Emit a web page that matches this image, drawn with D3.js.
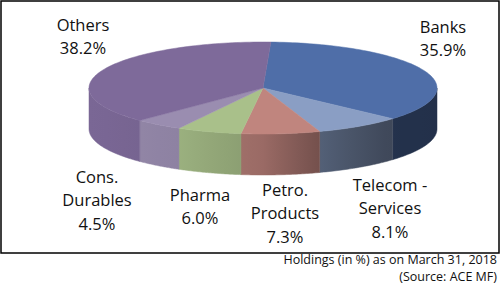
<!DOCTYPE html>
<html>
<head>
<meta charset="utf-8">
<script src="https://cdn.jsdelivr.net/npm/d3@7"></script>
<style>
  body { margin: 0; background: #fff; }
  text { font-family: "Open Sans", sans-serif; fill: #111; }
</style>
</head>
<body>
<div id="chart"></div>
<script>
// data
var categories = ["Banks", "Telecom - Services", "Petro. Products", "Pharma", "Cons. Durables", "Others"];
var values = [35.9, 8.1, 7.3, 6.0, 4.5, 38.2];
var footnotes = ["Holdings (in %) as on March 31, 2018", "(Source: ACE MF)"];

// layout
var width = 500, height = 285;
var cx = 263, cy = 88, rx = 174, ry = 46, depth = 41;
var startAngle = 2.6 * Math.PI / 180;
var colors = ["#4f6ea8", "#8a9ec4", "#c0857e", "#a9c08a", "#9a8db0", "#7e6a9a"];
// label centres (x, y of first line)
var labelPos = [[443, 27], [390, 185], [285, 190], [200, 195], [97, 177], [83, 25]];
var lineH = 23.5;

var svg = d3.select("#chart")
  .append("svg")
  .attr("width", width)
  .attr("height", height);

// outer frame
svg.append("rect")
  .attr("x", 1).attr("y", 1)
  .attr("width", 498).attr("height", 252)
  .attr("fill", "none")
  .attr("stroke", "#000")
  .attr("stroke-width", 1.5);

var pie = d3.pie().sort(null)
  .startAngle(startAngle)
  .endAngle(startAngle + 2 * Math.PI);
var arcs = pie(values);

// wall shading depends on horizontal position (light from left)
var shade = d3.scaleLinear()
  .domain([-1, -0.5, 0, 0.33, 0.74, 1])
  .range([0.97, 0.92, 0.8, 0.6, 0.45, 0.44])
  .clamp(true);

function px(a) { return cx + rx * Math.sin(a); }
function py(a) { return cy - ry * Math.cos(a); }

var defs = svg.append("defs");
colors.forEach(function (c, i) {
  var g = defs.append("linearGradient")
    .attr("id", "wall" + i)
    .attr("gradientUnits", "userSpaceOnUse")
    .attr("x1", cx - rx).attr("x2", cx + rx)
    .attr("y1", 0).attr("y2", 0);
  d3.range(0, 1.0001, 0.05).forEach(function (t) {
    var base = d3.rgb(c), f = shade(t * 2 - 1);
    g.append("stop")
      .attr("offset", t)
      .attr("stop-color", d3.rgb(base.r * f, base.g * f, base.b * f));
  });
});

// front walls: only the part between 90deg and 270deg (the front half)
var walls = svg.append("g");
arcs.forEach(function (d, i) {
  var a0 = Math.max(d.startAngle, Math.PI / 2);
  var a1 = Math.min(d.endAngle, 3 * Math.PI / 2);
  // slices that wrap past 2PI
  if (a1 <= a0) {
    a0 = Math.max(d.startAngle - 2 * Math.PI, Math.PI / 2);
    a1 = Math.min(d.endAngle - 2 * Math.PI, 3 * Math.PI / 2);
    if (a1 <= a0) return;
  }
  var n = 40, top = [], bot = [];
  for (var k = 0; k <= n; k++) {
    var a = a0 + (a1 - a0) * k / n;
    top.push([px(a), py(a)]);
    bot.push([px(a), py(a) + depth]);
  }
  var pts = top.concat(bot.reverse());
  walls.append("path")
    .attr("d", d3.line()(pts) + "Z")
    .attr("fill", "url(#wall" + i + ")")
    .attr("stroke", "url(#wall" + i + ")")
    .attr("stroke-width", 0.5);
});

// top faces
var tops = svg.append("g");
arcs.forEach(function (d, i) {
  var n = Math.max(4, Math.ceil((d.endAngle - d.startAngle) * 40));
  var pts = [[cx, cy]];
  for (var k = 0; k <= n; k++) {
    var a = d.startAngle + (d.endAngle - d.startAngle) * k / n;
    pts.push([px(a), py(a)]);
  }
  tops.append("path")
    .attr("d", d3.line()(pts) + "Z")
    .attr("fill", colors[i])
    .attr("stroke", colors[i])
    .attr("stroke-width", 0.5);
});

// labels
function wrap(name) {
  var words = name.split(" "), lines = [];
  words.forEach(function (w) {
    if (w === "-" && lines.length) lines[lines.length - 1] += " -";
    else lines.push(w);
  });
  return lines;
}

var labels = svg.append("g");
arcs.forEach(function (d, i) {
  var lines = wrap(categories[i]).concat([values[i].toFixed(1) + "%"]);
  var t = labels.append("text")
    .attr("text-anchor", "middle")
    .attr("font-size", "16.5px");
  lines.forEach(function (l, k) {
    t.append("tspan")
      .attr("x", labelPos[i][0])
      .attr("y", labelPos[i][1] + k * lineH)
      .attr("dy", "0.35em")
      .text(l);
  });
});

// footnote
svg.append("g").selectAll("text")
  .data(footnotes)
  .enter().append("text")
  .attr("x", 497)
  .attr("y", function (d, i) { return 260 + i * 17; })
  .attr("dy", "0.35em")
  .attr("text-anchor", "end")
  .attr("font-size", "12.5px")
  .text(function (d) { return d; });
</script>
</body>
</html>
